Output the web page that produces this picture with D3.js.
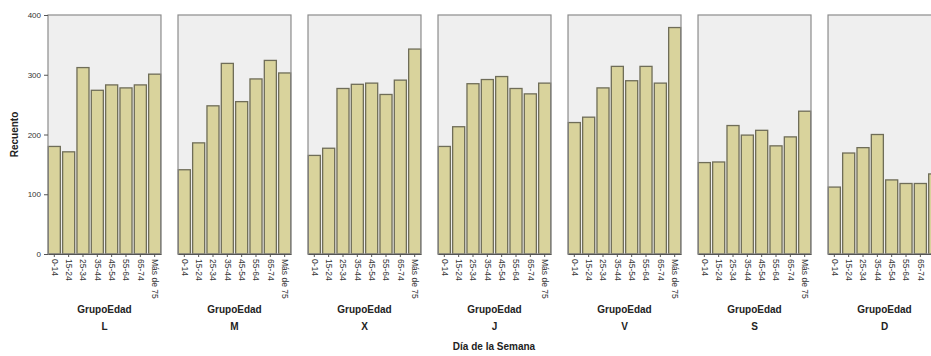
<!DOCTYPE html>
<html>
<head>
<meta charset="utf-8">
<script src="https://cdn.jsdelivr.net/npm/d3@7"></script>
<style>
  body { margin: 0; background: #fff; }
  svg { display: block; font-family: "Liberation Sans", Arial, sans-serif; }
  .tick-label { font-size: 8px; fill: #333; }
  .x-label { font-size: 8.5px; fill: #333; }
  .title { font-size: 10px; font-weight: bold; fill: #222; }
</style>
</head>
<body>
<div id="chart"></div>
<script>
// Days (panels) and age groups (bars in each panel)
const days = ["L", "M", "X", "J", "V", "S", "D"];
const ageGroups = ["0-14", "15-24", "25-34", "35-44", "45-54", "55-64", "65-74", "Más de 75"];
const yTicks = [0, 100, 200, 300, 400];

// Counts per day, in ageGroups order
const countsL = [180, 171, 312, 274, 283, 278, 283, 301];
const countsM = [141, 186, 248, 319, 255, 293, 324, 303];
const countsX = [165, 177, 277, 284, 286, 267, 291, 343];
const countsJ = [180, 213, 285, 292, 297, 277, 268, 286];
const countsV = [220, 229, 278, 314, 290, 314, 286, 379];
const countsS = [153, 154, 215, 199, 207, 181, 196, 239];
const countsD = [112, 169, 178, 200, 124, 118, 118, 134];

const counts = [countsL, countsM, countsX, countsJ, countsV, countsS, countsD];

const W = 931, H = 356;
const svg = d3.select("#chart").append("svg").attr("width", W).attr("height", H);

// outer scale: one panel per day
const xDay = d3.scaleBand().domain(days).range([48, 941]).paddingInner(0.131).paddingOuter(0);
// inner scale: one bar per age group
const xAge = d3.scaleBand().domain(ageGroups).range([0, xDay.bandwidth()]).paddingInner(0.16).paddingOuter(0.02);
const y = d3.scaleLinear().domain([0, 400]).range([254, 15]);

days.forEach((day, i) => {
  const g = svg.append("g").attr("transform", `translate(${xDay(day)},0)`);

  // panel background
  g.append("rect")
    .attr("x", 0).attr("y", y(400))
    .attr("width", xDay.bandwidth()).attr("height", y(0) - y(400))
    .attr("fill", "#efefef");

  g.selectAll("rect.bar")
    .data(counts[i].map((v, k) => ({ age: ageGroups[k], v })))
    .join("rect")
      .attr("class", "bar")
      .attr("x", d => xAge(d.age))
      .attr("y", d => y(d.v))
      .attr("width", xAge.bandwidth())
      .attr("height", d => y(0) - y(d.v))
      .attr("fill", "#d9d39c")
      .attr("stroke", "#6f6d58")
      .attr("stroke-width", 1.3);

  // panel frame
  g.append("rect")
    .attr("x", 0).attr("y", y(400))
    .attr("width", xDay.bandwidth()).attr("height", y(0) - y(400))
    .attr("fill", "none").attr("stroke", "#8c8c8c").attr("stroke-width", 1.2);

  // bottom axis with rotated labels
  const ax = g.append("g").attr("transform", `translate(0,${y(0)})`)
    .call(d3.axisBottom(xAge).tickSize(3).tickSizeOuter(0));
  ax.attr("font-size", null).attr("font-family", null);
  ax.select(".domain").attr("stroke", "#555");
  ax.selectAll(".tick line").attr("stroke", "#555");
  ax.selectAll(".tick text")
    .attr("class", "x-label")
    .attr("transform", "rotate(90)")
    .attr("x", 5).attr("y", 0).attr("dy", "0.32em")
    .attr("fill", null)
    .style("text-anchor", "start");

  g.append("text").attr("class", "title")
    .attr("x", xDay.bandwidth() / 2).attr("y", 313)
    .attr("text-anchor", "middle").text("GrupoEdad");
  g.append("text").attr("class", "title")
    .attr("x", xDay.bandwidth() / 2).attr("y", 330)
    .attr("text-anchor", "middle").text(day);
});

// y axis on the first panel only
const yAx = svg.append("g").attr("transform", `translate(${xDay(days[0])},0)`)
  .call(d3.axisLeft(y).tickValues(yTicks).tickSize(4).tickSizeOuter(0));
yAx.attr("font-size", null).attr("font-family", null);
yAx.select(".domain").remove();
yAx.selectAll(".tick line").attr("stroke", "#555");
yAx.selectAll(".tick text").attr("class", "tick-label").attr("fill", null);

svg.append("text").attr("class", "title")
  .attr("transform", `translate(18,${(y(0) + y(400)) / 2}) rotate(-90)`)
  .attr("text-anchor", "middle").text("Recuento");

svg.append("text").attr("class", "title")
  .attr("x", 494).attr("y", 350)
  .attr("text-anchor", "middle").text("Día de la Semana");
</script>
</body>
</html>
